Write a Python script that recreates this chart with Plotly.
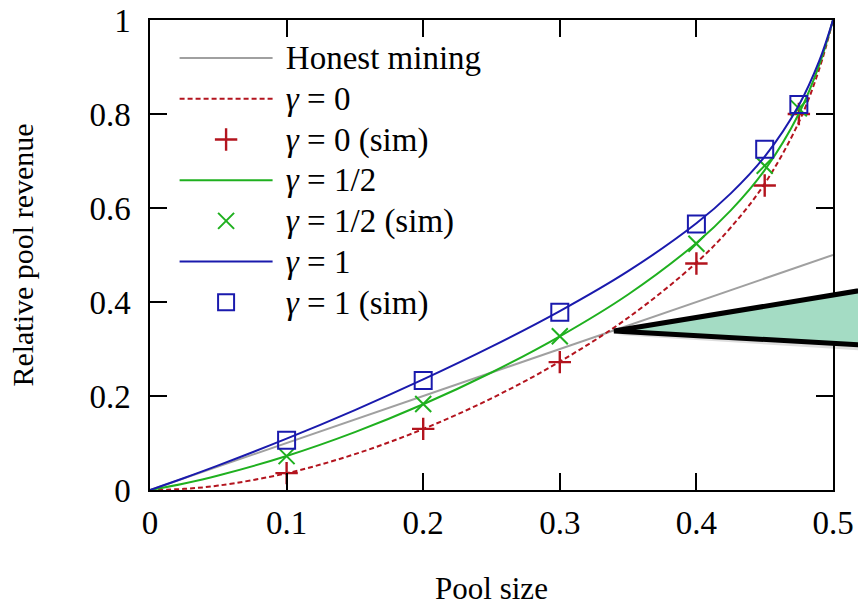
import plotly.graph_objects as go

# ---- data ----
x_theory = [0, 0.025, 0.05, 0.1, 0.15, 0.2, 0.25, 0.3, 0.35, 0.4, 0.425, 0.45, 0.475, 0.49, 0.5]
gamma0 = [0, 0.0024, 0.0094, 0.0356, 0.0763, 0.1297, 0.1951, 0.2731, 0.3665, 0.4837, 0.5580, 0.6518, 0.7826, 0.8963, 1.0]
gamma05 = [0, 0.0140, 0.0309, 0.0724, 0.1232, 0.1824, 0.2500, 0.3269, 0.4160, 0.5256, 0.5943, 0.6806, 0.8006, 0.9049, 1.0]
gamma1 = [0, 0.0256, 0.0524, 0.1092, 0.1701, 0.2352, 0.3049, 0.3806, 0.4656, 0.5674, 0.6306, 0.7094, 0.8187, 0.9135, 1.0]

x_honest = [0, 0.5]
honest = [0, 0.5]

x_sim = [0.1, 0.2, 0.3, 0.4, 0.45, 0.475]
sim0 = [0.036, 0.130, 0.272, 0.482, 0.648, 0.800]
sim05 = [0.072, 0.183, 0.327, 0.524, 0.690, 0.812]
sim1 = [0.106, 0.233, 0.378, 0.566, 0.725, 0.820]

legend_names = ["Honest mining", "<i>γ</i> = 0", "<i>γ</i> = 0 (sim)", "<i>γ</i> = 1/2",
                "<i>γ</i> = 1/2 (sim)", "<i>γ</i> = 1", "<i>γ</i> = 1 (sim)"]

FONT = "Liberation Serif, Times New Roman, serif"
GRAY = "#a0a0a0"
RED = "#b3141e"
GREEN = "#1fb01f"
BLUE = "#1a1aad"


def big(s):
    return '<span style="font-size:33px">\u00a0' + s + "</span>"


fig = go.Figure()
fig.add_trace(go.Scatter(x=x_honest, y=honest, mode="lines", name=big(legend_names[0]),
                         line=dict(color=GRAY, width=2)))
fig.add_trace(go.Scatter(x=x_theory, y=gamma0, mode="lines", name=big(legend_names[1]),
                         line=dict(color=RED, width=2, dash="5px,3px", shape="spline")))
fig.add_trace(go.Scatter(x=x_sim, y=sim0, mode="markers", name=big(legend_names[2]),
                         marker=dict(symbol="cross-thin", size=16, line=dict(color=RED, width=2.4))))
fig.add_trace(go.Scatter(x=x_theory, y=gamma05, mode="lines", name=big(legend_names[3]),
                         line=dict(color=GREEN, width=2, shape="spline")))
fig.add_trace(go.Scatter(x=x_sim, y=sim05, mode="markers", name=big(legend_names[4]),
                         marker=dict(symbol="x-thin", size=16, line=dict(color=GREEN, width=2))))
fig.add_trace(go.Scatter(x=x_theory, y=gamma1, mode="lines", name=big(legend_names[5]),
                         line=dict(color=BLUE, width=2, shape="spline")))
fig.add_trace(go.Scatter(x=x_sim, y=sim1, mode="markers", name=big(legend_names[6]),
                         marker=dict(symbol="square-open", size=17, color=BLUE, line=dict(color=BLUE, width=2))))

# plot area in page pixels (body margin is removed below)
L, R, T, B = 150, 833, 20, 490
W, H = float(R - L), float(B - T)


def px(x):
    return (x - L) / W


def py(y):
    return (B - y) / H


tip = (614, 331)
top = (900, 284)
bot = (900, 347)
shadow_path = "M{},{} L{},{} L{},{} Z".format(px(tip[0] + 3), py(tip[1] + 4), px(top[0]), py(top[1] + 6),
                                              px(bot[0]), py(bot[1] + 6))
main_path = "M{},{} L{},{} L{},{} Z".format(px(tip[0]), py(tip[1]), px(top[0]), py(top[1]),
                                            px(bot[0]), py(bot[1]))

fig.update_layout(
    shapes=[
        dict(type="path", xref="paper", yref="paper", path=shadow_path,
             fillcolor="rgba(0,0,0,0.13)", line=dict(width=0), layer="above"),
        dict(type="path", xref="paper", yref="paper", path=main_path,
             fillcolor="#a4dcc4", line=dict(color="black", width=5), layer="above"),
    ]
)

FW, FH = 858, 606
fig.update_layout(
    width=FW, height=FH,
    margin=dict(l=L, r=FW - R, t=T, b=FH - B, autoexpand=False),
    paper_bgcolor="white", plot_bgcolor="white",
    font=dict(family=FONT, size=33, color="black"),
    showlegend=True,
    legend=dict(x=0.036, y=0.973, xanchor="left", yanchor="top",
                bgcolor="rgba(0,0,0,0)", borderwidth=0,
                font=dict(family=FONT, size=29, color="black"),
                itemwidth=93, tracegroupgap=0),
    xaxis=dict(range=[0, 0.5], dtick=0.1, tick0=0, ticks="inside", ticklen=17, tickwidth=1.5,
               tickcolor="black", showline=True, linecolor="black", linewidth=1.5, mirror="ticks",
               showgrid=False, zeroline=False, ticklabelstandoff=3, automargin=False,
               ticklabeloverflow="allow",
               title=dict(text="Pool size", font=dict(family=FONT, size=31), standoff=37)),
    yaxis=dict(range=[0, 1], dtick=0.2, tick0=0, ticks="inside", ticklen=17, tickwidth=1.5,
               tickcolor="black", showline=True, linecolor="black", linewidth=1.5, mirror="ticks",
               showgrid=False, zeroline=False, ticklabelstandoff=11, automargin=False,
               ticklabeloverflow="allow",
               title=dict(text="Relative pool revenue", font=dict(family=FONT, size=30), standoff=47)),
)

fig.write_html("out.html", config={"displayModeBar": False},
               post_script="document.body.style.margin='0px';")
